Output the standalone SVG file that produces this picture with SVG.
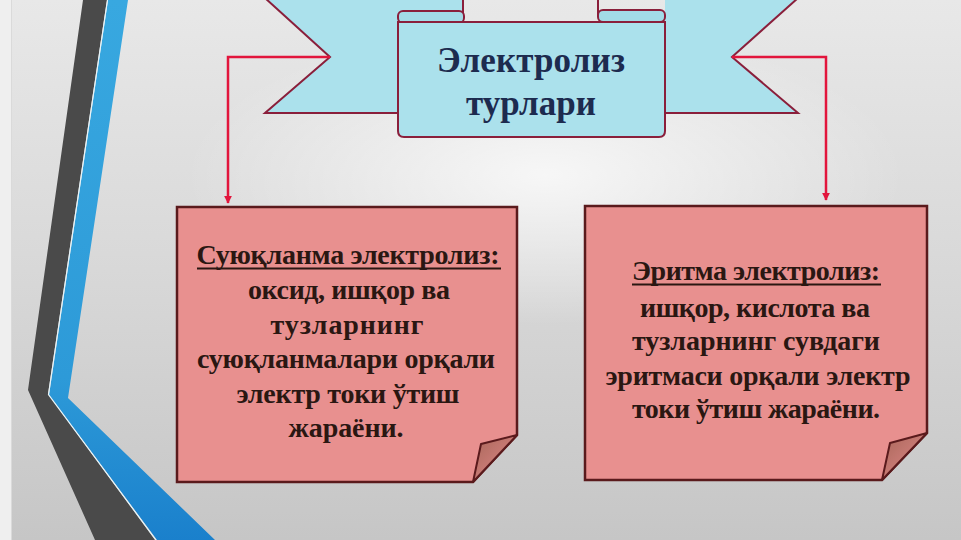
<svg xmlns="http://www.w3.org/2000/svg" width="961" height="540" viewBox="0 0 961 540">
  <defs>
    <linearGradient id="bg" x1="0" y1="0" x2="0" y2="1">
      <stop offset="0" stop-color="#e8e8e8"/>
      <stop offset="0.5" stop-color="#d8d8d8"/>
      <stop offset="1" stop-color="#c6c6c6"/>
    </linearGradient>
    <radialGradient id="glow" cx="0.5" cy="0.5" r="0.5">
      <stop offset="0" stop-color="#ffffff" stop-opacity="0.75"/>
      <stop offset="1" stop-color="#ffffff" stop-opacity="0"/>
    </radialGradient>
    <linearGradient id="blue" x1="0" y1="0" x2="0" y2="1">
      <stop offset="0" stop-color="#38a8e0"/>
      <stop offset="0.7" stop-color="#2d9ad8"/>
      <stop offset="1" stop-color="#1a80cc"/>
    </linearGradient>
    <linearGradient id="fold" x1="0" y1="0" x2="1" y2="1">
      <stop offset="0" stop-color="#a86658"/>
      <stop offset="1" stop-color="#e48c8e"/>
    </linearGradient>
    <marker id="arr" viewBox="0 0 10 10" refX="9" refY="5" markerWidth="3.2" markerHeight="3.2" orient="auto" markerUnits="strokeWidth">
      <path d="M0,0 L10,5 L0,10 Z" fill="#e2153c"/>
    </marker>
    <style>
      .rib { fill: #abe1ec; }
      .ribline { fill: none; stroke: #8a1f3b; stroke-width: 2; stroke-linejoin: miter; }
      .title { font-family: "Liberation Serif", "Times New Roman", serif; font-weight: bold; font-size: 35px; fill: #1d2b4f; text-anchor: middle; }
      .box { fill: #e8908f; stroke: #5a1a1c; stroke-width: 2.5; }
      .fold { fill: url(#fold); stroke: #5a1a1c; stroke-width: 2; stroke-linejoin: round; }
      .txt { font-family: "Liberation Serif", "Times New Roman", serif; font-weight: bold; font-size: 28px; fill: #2a1712; text-anchor: middle; }
      .ul { stroke: #2a1712; stroke-width: 2; }
      .conn { fill: none; stroke: #e2153c; stroke-width: 2.5; }
    </style>
  </defs>

  <!-- background -->
  <rect x="0" y="0" width="961" height="540" fill="url(#bg)"/>
  <ellipse cx="545" cy="175" rx="360" ry="150" fill="url(#glow)"/>
  <rect x="0" y="0" width="11" height="540" fill="#efefef"/>
  <line x1="11.5" y1="0" x2="11.5" y2="540" stroke="#dadada" stroke-width="1"/>

  <!-- decorative stripes -->
  <polygon points="83,0 107,0 48,394 155,540 95,540 28,390" fill="#4a4a4a"/>
  <polygon points="108,0 128,0 68,398 215,540 157,540 49,395" fill="url(#blue)"/>
  <polyline points="107.5,0 48.5,394.5 156,540" fill="none" stroke="#e8f4f8" stroke-width="1.2"/>

  <!-- title ribbon -->
  <g id="title">
    <polygon class="rib" points="265,-2 463,-2 463,113 265,113 330,57"/>
    <path class="ribline" d="M265,-2 L330,57 L265,113 L400,113"/>
    <line class="ribline" x1="463" y1="-2" x2="463" y2="17"/>
    <polygon class="rib" points="598,-2 798,-2 732,57 798,113 665,113 665,-2"/>
    <path class="ribline" d="M798,-2 L732,57 L798,113 L663,113"/>
    <line class="ribline" x1="598" y1="-2" x2="598" y2="16"/>
    <rect x="398" y="11" width="66" height="12" rx="5" fill="#a2dbe7" stroke="#8a1f3b" stroke-width="2"/>
    <rect x="598" y="10" width="67" height="12" rx="5" fill="#a2dbe7" stroke="#8a1f3b" stroke-width="2"/>
    <path class="rib" d="M398,22 L665,22 L665,131 Q665,137 659,137 L404,137 Q398,137 398,131 Z" stroke="#8a1f3b" stroke-width="2"/>
    <text class="title" x="531" y="72" textLength="188" lengthAdjust="spacing">Электролиз</text>
    <text class="title" x="531" y="115" textLength="130" lengthAdjust="spacing">турлари</text>
  </g>

  <!-- connectors -->
  <g id="connectors">
    <path class="conn" d="M330,57 L228,57 L228,203" marker-end="url(#arr)"/>
    <path class="conn" d="M732,57 L826,57 L826,200" marker-end="url(#arr)"/>
  </g>

  <!-- left box -->
  <g id="melt">
    <path class="box" d="M177,207 L517,207 L517,435 L473,482 L177,482 Z"/>
    <polygon class="fold" points="517,435 481,444 473,482"/>
    <text class="txt" x="348" y="264" textLength="303" lengthAdjust="spacing">Суюқланма электролиз:</text>
    <line class="ul" x1="197" y1="268.5" x2="501" y2="268.5"/>
    <text class="txt" x="349" y="299" textLength="202" lengthAdjust="spacing">оксид, ишқор ва</text>
    <text class="txt" x="347" y="334" textLength="153" lengthAdjust="spacing">тузларнинг</text>
    <text class="txt" x="346" y="368" textLength="298" lengthAdjust="spacing">суюқланмалари орқали</text>
    <text class="txt" x="348" y="403" textLength="223" lengthAdjust="spacing">электр токи ўтиш</text>
    <text class="txt" x="346" y="437" textLength="115" lengthAdjust="spacing">жараёни.</text>
  </g>

  <!-- right box -->
  <g id="solution">
    <path class="box" d="M585,206 L927,206 L927,433 L882,480 L585,480 Z"/>
    <polygon class="fold" points="927,433 890,443 882,480"/>
    <text class="txt" x="756" y="280" textLength="248" lengthAdjust="spacing">Эритма электролиз:</text>
    <line class="ul" x1="632" y1="284.5" x2="881" y2="284.5"/>
    <text class="txt" x="755" y="317" textLength="230" lengthAdjust="spacing">ишқор, кислота ва</text>
    <text class="txt" x="756" y="350" textLength="248" lengthAdjust="spacing">тузларнинг сувдаги</text>
    <text class="txt" x="758" y="385" textLength="305" lengthAdjust="spacing">эритмаси орқали электр</text>
    <text class="txt" x="756" y="418" textLength="248" lengthAdjust="spacing">токи ўтиш жараёни.</text>
  </g>
</svg>
